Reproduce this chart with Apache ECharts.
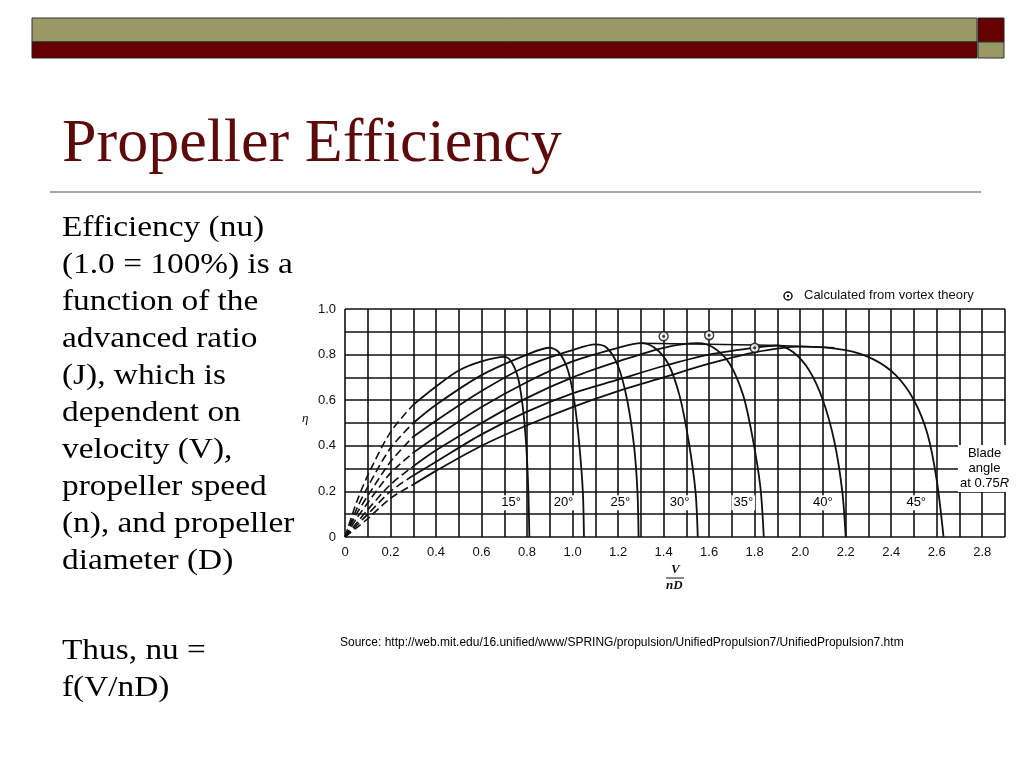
<!DOCTYPE html>
<html><head><meta charset="utf-8">
<script src="https://cdn.jsdelivr.net/npm/echarts@6/dist/echarts.min.js"></script>
<style>html,body{margin:0;padding:0;background:#fff}#c{width:1024px;height:768px}</style>
</head><body><div id="c"></div>
<script>
const angles = ['15°','20°','25°','30°','35°','40°','45°'];
const dashedParts = [
 [[0,0],[0.05,0.15],[0.1,0.27],[0.2,0.46],[0.3,0.58]],
 [[0,0],[0.05,0.12],[0.1,0.22],[0.2,0.39],[0.3,0.5]],
 [[0,0],[0.05,0.1],[0.1,0.18],[0.2,0.33],[0.3,0.44]],
 [[0,0],[0.05,0.08],[0.1,0.15],[0.2,0.28],[0.3,0.37]],
 [[0,0],[0.05,0.06],[0.1,0.12],[0.2,0.23],[0.3,0.31]],
 [[0,0],[0.05,0.05],[0.1,0.1],[0.2,0.2],[0.3,0.27]],
 [[0,0],[0.05,0.04],[0.1,0.08],[0.2,0.17],[0.3,0.23]]
];
const solidParts = [
 [[0.3,0.58],[0.4,0.66],[0.5,0.73],[0.6,0.77],[0.7,0.79],[0.73,0.77],[0.76,0.7],[0.78,0.58],[0.795,0.42],[0.805,0.22],[0.81,0]],
 [[0.3,0.5],[0.4,0.58],[0.6,0.71],[0.8,0.8],[0.9,0.83],[0.94,0.81],[0.98,0.73],[1.01,0.58],[1.03,0.4],[1.045,0.2],[1.05,0]],
 [[0.3,0.44],[0.4,0.51],[0.6,0.64],[0.8,0.75],[1.0,0.82],[1.1,0.845],[1.15,0.83],[1.2,0.75],[1.24,0.6],[1.27,0.4],[1.285,0.2],[1.29,0]],
 [[0.3,0.37],[0.4,0.44],[0.6,0.57],[0.8,0.68],[1.0,0.77],[1.2,0.83],[1.3,0.85],[1.36,0.83],[1.42,0.76],[1.47,0.62],[1.51,0.42],[1.54,0.2],[1.55,0]],
 [[0.3,0.31],[0.4,0.38],[0.6,0.5],[0.8,0.61],[1.0,0.7],[1.2,0.77],[1.4,0.83],[1.55,0.85],[1.62,0.83],[1.69,0.76],[1.75,0.62],[1.79,0.44],[1.825,0.22],[1.84,0]],
 [[0.3,0.27],[0.4,0.33],[0.6,0.45],[0.8,0.55],[1.0,0.63],[1.2,0.69],[1.4,0.75],[1.6,0.8],[1.8,0.83],[1.9,0.84],[1.97,0.81],[2.04,0.73],[2.1,0.6],[2.15,0.42],[2.185,0.2],[2.2,0]],
 [[0.3,0.23],[0.4,0.29],[0.6,0.4],[0.8,0.49],[1.0,0.57],[1.2,0.64],[1.4,0.7],[1.6,0.76],[1.8,0.81],[2.0,0.835],[2.2,0.82],[2.32,0.78],[2.42,0.71],[2.5,0.6],[2.56,0.45],[2.6,0.25],[2.63,0]]
];
const envelope = [[1.3,0.85],[1.6,0.845],[1.9,0.84],[2.15,0.83]];
const vortexPoints = [[1.4,0.88],[1.6,0.885],[1.8,0.83]];
const angleLabelPos = [[0.73,0.15],[0.96,0.15],[1.21,0.15],[1.47,0.15],[1.75,0.15],[2.1,0.15],[2.51,0.15]];
const bulletLines = ['Efficiency (nu)','(1.0 = 100%) is a','function of the','advanced ratio','(J), which is','dependent on','velocity (V),','propeller speed','(n), and propeller','diameter (D)'];

const series = [];
dashedParts.forEach(d=>series.push({type:'line',data:d,showSymbol:false,smooth:0.3,silent:true,lineStyle:{color:'#111',width:1.6,type:[8,4]}}));
solidParts.forEach(d=>series.push({type:'line',data:d,showSymbol:false,smooth:0.3,silent:true,lineStyle:{color:'#111',width:1.8}}));
series.push({type:'line',data:envelope,showSymbol:false,smooth:true,silent:true,lineStyle:{color:'#111',width:1.5}});
series.push({type:'scatter',data:vortexPoints,symbol:'circle',symbolSize:9,silent:true,itemStyle:{color:'#fff',borderColor:'#111',borderWidth:1.5},z:5});
series.push({type:'scatter',data:vortexPoints,symbol:'circle',symbolSize:3,silent:true,itemStyle:{color:'#111'},z:6});
const lab = {show:true,position:'inside',fontFamily:'Liberation Sans',fontSize:13,color:'#000',opacity:1,backgroundColor:'#fff',padding:[1,2]};
series.push({type:'scatter',symbolSize:1,silent:true,z:7,itemStyle:{opacity:0},data:angleLabelPos.map((p,i)=>({value:p,name:angles[i]})),
  label:Object.assign({},lab,{formatter:p=>p.name})});
series.push({type:'scatter',symbolSize:1,silent:true,z:7,itemStyle:{opacity:0},data:[[2.81,0.3]],
  label:Object.assign({},lab,{formatter:'Blade\nangle\nat 0.75{i|R}',align:'center',lineHeight:15,rich:{i:{fontStyle:'italic',fontSize:13,color:'#000',fontFamily:'Liberation Sans'}}})});

const axLab = {margin:9,fontFamily:'Liberation Sans',fontSize:13,color:'#111'};
const ch = echarts.init(document.getElementById('c'));
ch.setOption({
 animation:false,
 backgroundColor:'#fff',
 grid:{left:345,top:309,right:19,bottom:231},
 xAxis:{type:'value',min:0,max:2.9,interval:0.1,
   axisLine:{show:false},axisTick:{show:false},
   splitLine:{lineStyle:{color:'#111',width:1.6}},
   axisLabel:Object.assign({},axLab,{formatter:v=>{const k=Math.round(v*10);if(k===0)return '0';if(k%2||k>28)return '';return (k/10).toFixed(1);}})},
 yAxis:{type:'value',min:0,max:1,interval:0.1,
   axisLine:{show:false},axisTick:{show:false},
   splitLine:{lineStyle:{color:'#111',width:1.6}},
   axisLabel:Object.assign({},axLab,{formatter:v=>{const k=Math.round(v*10);if(k===0)return '0';if(k%2)return '';return (k/10).toFixed(1);}})},
 series,
 graphic:[
  {type:'rect',shape:{x:32,y:18,width:945,height:24},style:{fill:'#999966',stroke:'#333',lineWidth:1}},
  {type:'rect',shape:{x:32,y:42,width:945,height:16},style:{fill:'#660000',stroke:'#222',lineWidth:1}},
  {type:'rect',shape:{x:978,y:18,width:26,height:24},style:{fill:'#660000',stroke:'#222',lineWidth:1}},
  {type:'rect',shape:{x:978,y:42,width:26,height:16},style:{fill:'#999966',stroke:'#333',lineWidth:1}},
  {type:'text',left:62,top:114,style:{text:'Propeller Efficiency',font:'62px "Liberation Serif"',fill:'#5c0a0a'}},
  {type:'line',shape:{x1:50,y1:192,x2:981,y2:192},style:{stroke:'#888',lineWidth:1.5}},
  {type:'text',x:62,y:210,style:{text:bulletLines.join('\n'),font:'29px "Liberation Serif"',lineHeight:37,fill:'#000'},scaleX:1.15},
  {type:'text',x:62,y:633,style:{text:'Thus, nu =\nf(V/nD)',font:'29px "Liberation Serif"',lineHeight:37,fill:'#000'},scaleX:1.15},
  {type:'text',left:340,top:637,style:{text:'Source: http://web.mit.edu/16.unified/www/SPRING/propulsion/UnifiedPropulsion7/UnifiedPropulsion7.htm',font:'12px "Liberation Sans"',fill:'#000'}},
  {type:'text',left:302,top:412,style:{text:'η',font:'italic 13px "Liberation Serif"',fill:'#111'}},
  {type:'text',left:671,top:563,style:{text:'V',font:'italic bold 13px "Liberation Serif"',fill:'#111'}},
  {type:'line',shape:{x1:666,y1:578,x2:684,y2:578},style:{stroke:'#111',lineWidth:1}},
  {type:'text',left:666,top:579,style:{text:'nD',font:'italic bold 13px "Liberation Serif"',fill:'#111'}},
  {type:'circle',shape:{cx:788,cy:296,r:4},style:{fill:'#fff',stroke:'#111',lineWidth:1.5}},
  {type:'circle',shape:{cx:788,cy:296,r:1.2},style:{fill:'#111'}},
  {type:'text',left:804,top:289,style:{text:'Calculated from vortex theory',font:'13px "Liberation Sans"',fill:'#111'}}
 ]
});
</script></body></html>
